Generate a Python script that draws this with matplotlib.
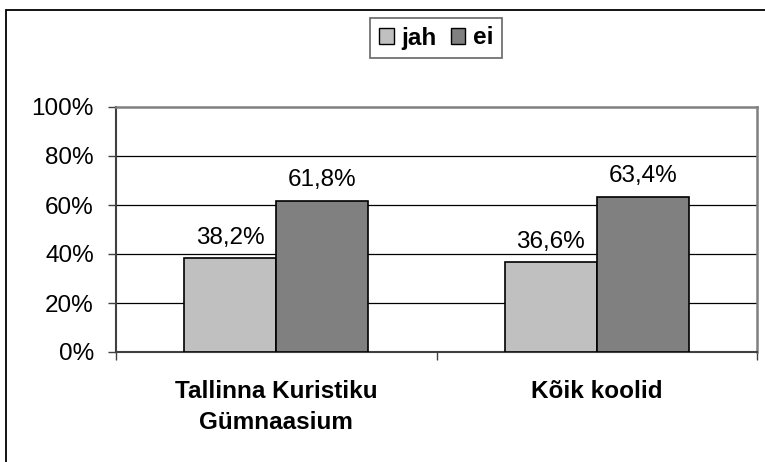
import numpy as np
import matplotlib.pyplot as plt
from matplotlib.patches import Patch, Rectangle
from matplotlib.ticker import FixedLocator, NullFormatter

plt.rcParams['font.family'] = ['Liberation Sans', 'DejaVu Sans']

# --- data ---
categories = ['Tallinna Kuristiku\nGümnaasium', 'Kõik koolid']
series_names = ['jah', 'ei']
jah = [38.2, 36.6]
ei = [61.8, 63.4]
value_labels = [['38,2%', '36,6%'], ['61,8%', '63,4%']]
y_ticks = [0, 20, 40, 60, 80, 100]
y_tick_labels = ['0%', '20%', '40%', '60%', '80%', '100%']
colors = ['#C0C0C0', '#808080']

FS = 17.5

fig = plt.figure(figsize=(7.65, 4.62), dpi=100)
ax = fig.add_axes([116 / 765, 1 - 352 / 462, (757 - 116) / 765, (352 - 107) / 462])

x = np.arange(len(categories))
w = 0.287
for i, vals in enumerate([jah, ei]):
    pos = x + (i - 0.5) * w
    ax.bar(pos, vals, width=w, color=colors[i], edgecolor='black',
           linewidth=1.2, zorder=3)
    for xp, v, lab in zip(pos, vals, value_labels[i]):
        ax.text(xp, v + 4, lab, ha='center', va='bottom', fontsize=FS, zorder=4)

ax.set_xlim(-0.5, 1.5)
ax.set_ylim(0, 100)

# gridlines
for yv in y_ticks[1:-1]:
    ax.axhline(yv, color='black', linewidth=0.9, zorder=1)

ax.set_yticks(y_ticks)
ax.set_yticklabels(y_tick_labels, fontsize=FS)
ax.tick_params(axis='y', direction='out', length=6, width=1, pad=10, color='#404040')

# x ticks at category boundaries, labels at centers
ax.xaxis.set_major_locator(FixedLocator([-0.5, 0.5, 1.5]))
ax.xaxis.set_major_formatter(NullFormatter())
ax.xaxis.set_minor_locator(FixedLocator(x))
ax.set_xticklabels(categories, minor=True, fontsize=FS, fontweight='bold',
                   linespacing=1.45)
ax.tick_params(axis='x', which='major', direction='out', length=6, width=1,
               color='#404040')
ax.tick_params(axis='x', which='minor', length=0, pad=20)

for side in ['left', 'bottom']:
    ax.spines[side].set_color('#404040')
    ax.spines[side].set_linewidth(1.5)
for side in ['top', 'right']:
    ax.spines[side].set_color('#808080')
    ax.spines[side].set_linewidth(1.8)

# legend
handles = [Patch(facecolor=c, edgecolor='black', linewidth=1.0) for c in colors]
leg = fig.legend(handles, series_names, loc='center', bbox_to_anchor=(436 / 765, 1 - 38 / 462),
                 ncol=2, frameon=True, fancybox=False, prop={'size': FS, 'weight': 'bold'},
                 handlelength=0.6, handleheight=0.6, handletextpad=0.3, columnspacing=0.6,
                 borderpad=0.35)
leg.get_frame().set_edgecolor('#404040')
leg.get_frame().set_linewidth(1.2)

# outer chart border (runs off the right and bottom edges)
fig.patches.append(Rectangle((6 / 765, -0.1), 1.2, 1.1 - 10 / 462 + 0.0,
                             transform=fig.transFigure, fill=False,
                             edgecolor='black', linewidth=1.3))

fig.savefig('out.png', dpi=100, facecolor='white')
